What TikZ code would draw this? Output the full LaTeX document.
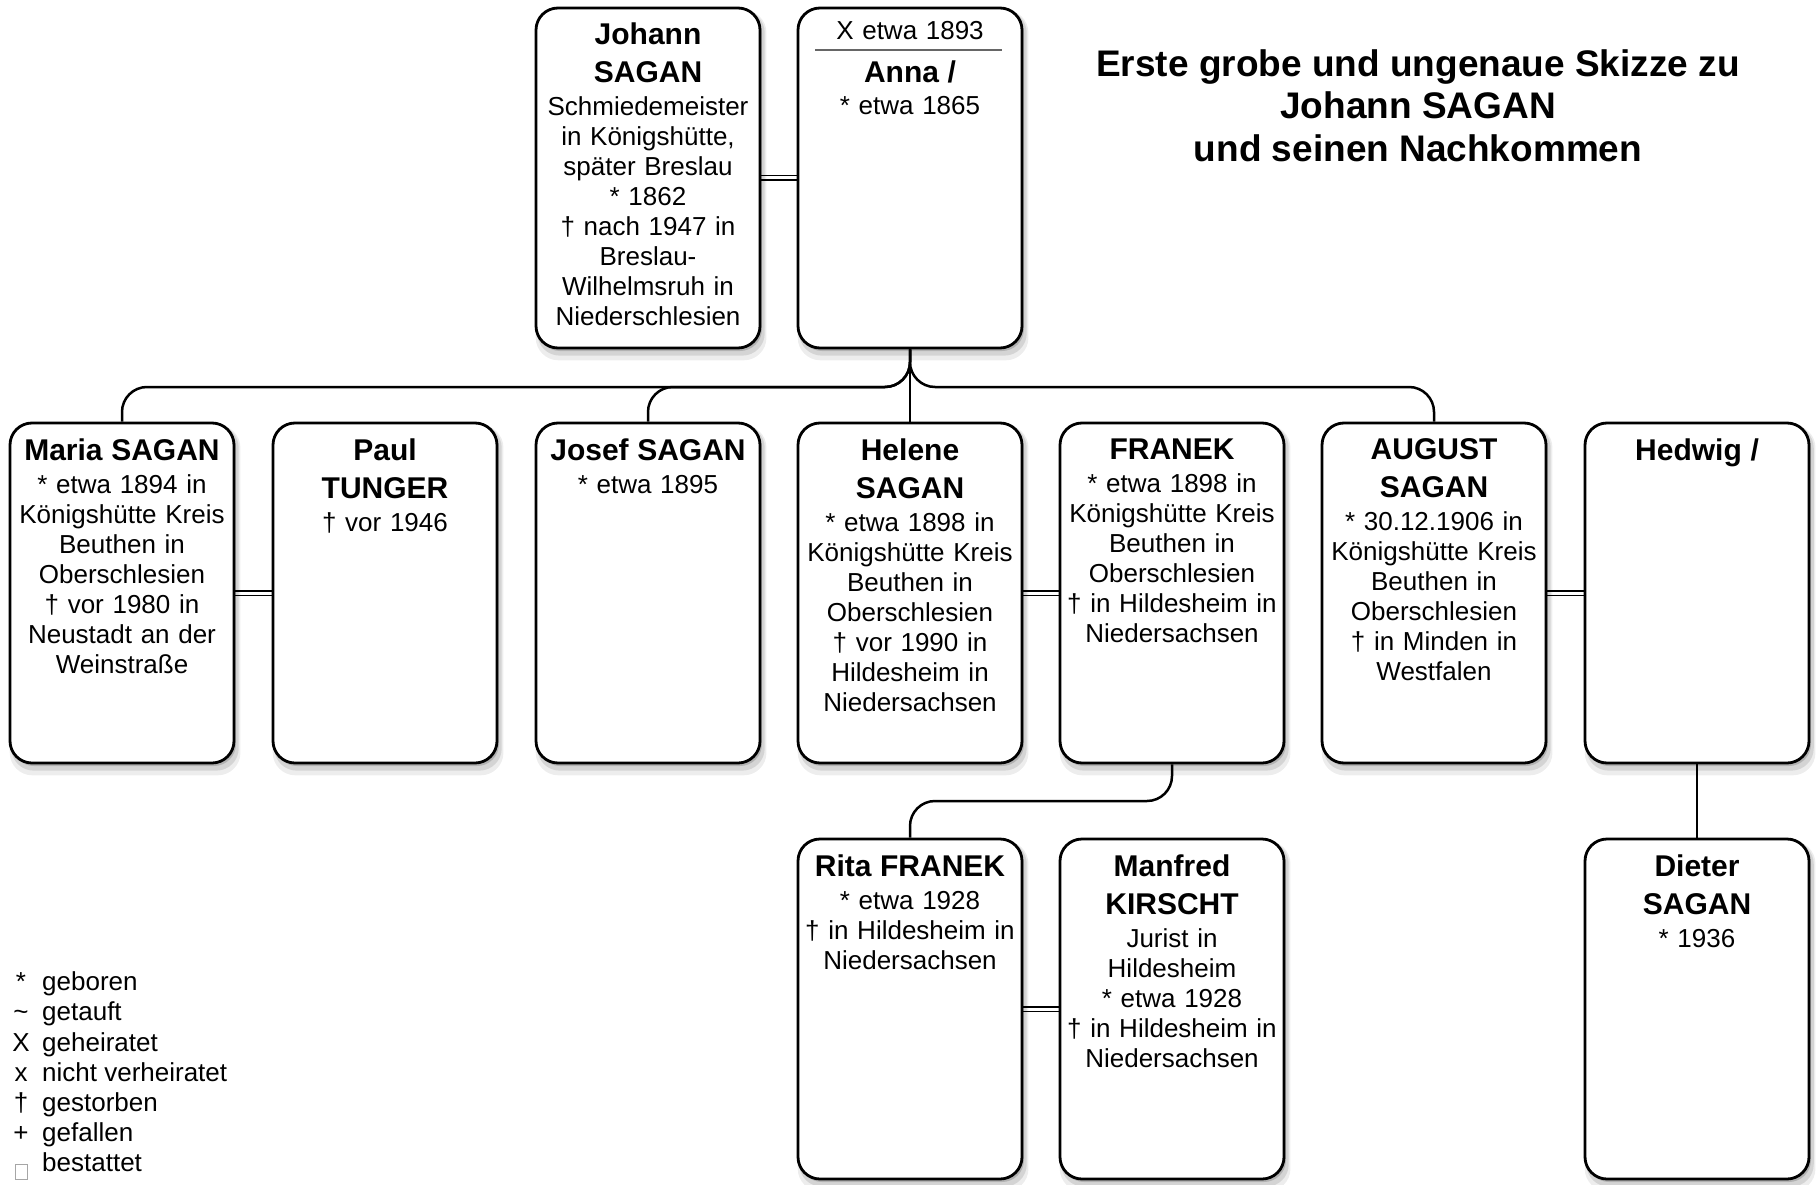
\documentclass[tikz,border=0pt]{standalone}
\usepackage{fontspec}
\setmainfont{Liberation Sans}
\usetikzlibrary{shadows}
\setlength{\parindent}{0pt}
\newcommand\pname{\fontsize{30}{38}\selectfont\bfseries}
\newcommand\pinf{\par\vskip3pt\fontsize{26}{30}\selectfont\mdseries}
\pgfdeclarelayer{background}
\pgfsetlayers{background,main}
\begin{document}
\begin{tikzpicture}[x=1pt,y=-1pt,
  person/.style={draw=black, line width=2.8pt, rounded corners=22pt, fill=white,
    minimum width=224pt, minimum height=340pt, inner sep=0pt,
    drop shadow={shadow xshift=2pt, shadow yshift=-3pt, opacity=0.16, fill=black},
    drop shadow={shadow xshift=3pt, shadow yshift=-5pt, opacity=0.10, fill=black, shadow scale=1.015},
    drop shadow={shadow xshift=3pt, shadow yshift=-7pt, opacity=0.07, fill=black, shadow scale=1.03}},
  ptext/.style={anchor=north, text width=240pt, align=center, inner sep=0pt,
    font=\fontsize{26}{30}\selectfont},
  rtext/.style={anchor=north, text width=240pt, align=center, inner sep=0pt,
    font=\fontsize{26}{30}\selectfont},
  conn/.style={draw=black, line width=2.5pt, rounded corners=25pt},
  dbl/.style={draw=black, double=white, double distance=3pt, line width=1.8pt},
  legtxt/.style={inner sep=0pt, text height=19pt, text depth=5.5pt,
    font=\fontsize{26}{30}\selectfont}]
\useasboundingbox (0,0) rectangle (1819,1185);
\begin{pgfonlayer}{background}
  \fill[white] (0,0) rectangle (1819,1185);
\end{pgfonlayer}

% title
\node[anchor=north, align=center, inner sep=0pt,
  font=\fontsize{37}{42.5}\selectfont\bfseries] (title) at (1418,49)
  {Erste grobe und ungenaue Skizze zu\\Johann SAGAN\\und seinen Nachkommen};

% generation 1
\node[person] (johann) at (648,178) {};
\node[ptext] (johannT) at ([yshift=-16pt]johann.north)
  {\pname Johann\\SAGAN\pinf Schmiedemeister\\in Königshütte,\\später Breslau\\{*} 1862\\† nach 1947 in\\Breslau-\\Wilhelmsruh in\\Niederschlesien};
\node[person] (anna) at (910,178) {};
\node[rtext] (annaM) at ([yshift=-15pt]anna.north) {X etwa 1893};
\draw[black!60, line width=1.3pt] (815,50) -- (1002,50);
\node[ptext] (annaT) at ([yshift=-54pt]anna.north) {\pname Anna /};
\node[rtext] (annaB) at ([yshift=-90pt]anna.north) {{*} etwa 1865};

% generation 2
\node[person] (maria) at (122,593) {};
\node[ptext] (mariaT) at ([yshift=-17pt]maria.north)
  {\pname Maria SAGAN\pinf {*} etwa 1894 in\\Königshütte Kreis\\Beuthen in\\Oberschlesien\\† vor 1980 in\\Neustadt an der\\Weinstraße};
\node[person] (paul) at (385,593) {};
\node[ptext] (paulT) at ([yshift=-17pt]paul.north) {\pname Paul\\TUNGER\pinf † vor 1946};
\node[person] (josef) at (648,593) {};
\node[ptext] (josefT) at ([yshift=-17pt]josef.north) {\pname Josef SAGAN\pinf {*} etwa 1895};
\node[person] (helene) at (910,593) {};
\node[ptext] (heleneT) at ([yshift=-17pt]helene.north)
  {\pname Helene\\SAGAN\pinf {*} etwa 1898 in\\Königshütte Kreis\\Beuthen in\\Oberschlesien\\† vor 1990 in\\Hildesheim in\\Niedersachsen};
\node[person] (franek) at (1172,593) {};
\node[ptext] (franekT) at ([yshift=-17pt]franek.north)
  {\pname FRANEK\pinf {*} etwa 1898 in\\Königshütte Kreis\\Beuthen in\\Oberschlesien\\† in Hildesheim in\\Niedersachsen};
\node[person] (august) at (1434,593) {};
\node[ptext] (augustT) at ([yshift=-17pt]august.north)
  {\pname AUGUST\\SAGAN\pinf {*} 30.12.1906 in\\Königshütte Kreis\\Beuthen in\\Oberschlesien\\† in Minden in\\Westfalen};
\node[person] (hedwig) at (1697,593) {};
\node[ptext] (hedwigT) at ([yshift=-17pt]hedwig.north) {\pname Hedwig /};

% generation 3
\node[person] (rita) at (910,1009) {};
\node[ptext] (ritaT) at ([yshift=-17pt]rita.north)
  {\pname Rita FRANEK\pinf {*} etwa 1928\\† in Hildesheim in\\Niedersachsen};
\node[person] (manfred) at (1172,1009) {};
\node[ptext] (manfredT) at ([yshift=-17pt]manfred.north)
  {\pname Manfred\\KIRSCHT\pinf Jurist in\\Hildesheim\\{*} etwa 1928\\† in Hildesheim in\\Niedersachsen};
\node[person] (dieter) at (1697,1009) {};
\node[ptext] (dieterT) at ([yshift=-17pt]dieter.north) {\pname Dieter\\SAGAN\pinf {*} 1936};

% connectors
\begin{pgfonlayer}{background}
  \draw[dbl] (johann.east) -- (anna.west);
  \draw[conn] (anna.south) -- (910,387) -- (122,387) -- (maria.north);
  \draw[conn] (anna.south) -- (910,387) -- (648,387) -- (josef.north);
  \draw[conn] (anna.south) -- (helene.north);
  \draw[conn] (anna.south) -- (910,387) -- (1434,387) -- (august.north);
  \draw[dbl] (maria.east) -- (paul.west);
  \draw[dbl] (helene.east) -- (franek.west);
  \draw[dbl] (august.east) -- (hedwig.west);
  \draw[conn] (franek.south) -- (1172,801) -- (910,801) -- (rita.north);
  \draw[dbl] (rita.east) -- (manfred.west);
  \draw[conn] (hedwig.south) -- (dieter.north);
\end{pgfonlayer}

% legend
\node[legtxt, anchor=center] (s1) at (21,984) {*};
\node[legtxt, anchor=west] (l1) at (42,984) {geboren};
\node[legtxt, anchor=center] (s2) at (21,1014) {\textasciitilde};
\node[legtxt, anchor=west] (l2) at (42,1014) {getauft};
\node[legtxt, anchor=center] (s3) at (21,1045) {X};
\node[legtxt, anchor=west] (l3) at (42,1045) {geheiratet};
\node[legtxt, anchor=center] (s4) at (21,1075) {x};
\node[legtxt, anchor=west] (l4) at (42,1075) {nicht verheiratet};
\node[legtxt, anchor=center] (s5) at (21,1105) {†};
\node[legtxt, anchor=west] (l5) at (42,1105) {gestorben};
\node[legtxt, anchor=center] (s6) at (21,1135) {+};
\node[legtxt, anchor=west] (l6) at (42,1135) {gefallen};
\node[draw=black!35, line width=0.8pt, minimum width=12pt, minimum height=15pt,
  inner sep=0pt] (s7) at (21,1172) {};
\node[legtxt, anchor=west] (l7) at (42,1165) {bestattet};
\end{tikzpicture}
\end{document}
